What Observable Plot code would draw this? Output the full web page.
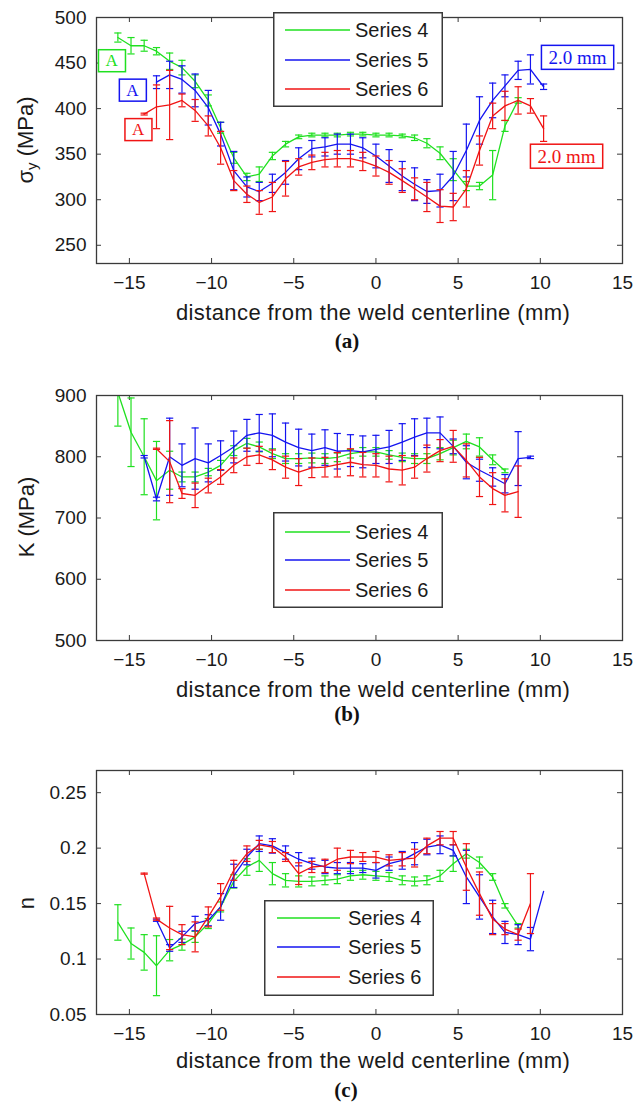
<!DOCTYPE html>
<html><head><meta charset="utf-8">
<script src="https://cdn.jsdelivr.net/npm/d3@7"></script>
<script src="https://cdn.jsdelivr.net/npm/@observablehq/plot@0.6"></script>
<style>
body{margin:0;background:#fff;}
#wrap{position:relative;width:633px;height:1109px;overflow:hidden;font-family:"Liberation Sans",Arial,sans-serif;}
.panel{position:absolute;left:0;}
.legend{position:absolute;}
.caption{position:absolute;font-family:"Liberation Serif","Times New Roman",serif;font-weight:bold;font-size:21px;transform:translate(-50%,-50%);color:#111;}
</style></head><body><div id="wrap"></div>
<script>
// ---------- data ----------
const positions = [-15.7,-14.9,-14.1,-13.35,-12.55,-11.8,-11.0,-10.2,-9.45,-8.65,-7.85,-7.1,-6.3,-5.5,-4.7,-3.9,-3.1,-2.35,-1.55,-0.8,0,0.8,1.6,2.35,3.1,3.9,4.7,5.5,6.3,7.1,7.85,8.65,9.4,10.2];
const seriesNames = ["Series 4","Series 5","Series 6"];
const seriesColors = ["#20e020","#1414f0","#f01414"];
const xTicks = [-15,-10,-5,0,5,10,15];

const sigmaS4 = [478,469,469,463,452,445,430,409,379,346,325,328,348,361,369,371,371,371,372,372,371,371,370,368,362,351,333,315,315,327,381,409,null,null];
const sigmaS4Err = [5,9,6,4,9,8,7,6,6,6,4,8,4,3,2,2,2,2,2,2,2,2,2,3,5,7,12,5,4,27,6,3,null,null];
const sigmaS5 = [null,null,null,429,437,432,420,401,372,332,314,309,318,330,345,356,358,361,361,357,348,337,326,317,309,310,326,354,387,409,425,442,443,424];
const sigmaS5Err = [null,null,null,7,15,15,18,19,13,21,11,10,10,13,12,9,10,11,11,11,13,18,16,18,13,18,27,29,26,19,12,10,16,3];
const sigmaS6 = [null,null,394,402,404,409,398,381,357,321,306,297,303,323,336,341,344,345,345,342,337,330,321,312,303,293,292,312,354,392,403,409,403,378];
const sigmaS6Err = [null,null,1,24,38,7,12,11,18,11,9,13,16,19,9,8,8,9,9,10,11,13,13,12,16,18,15,20,16,14,16,15,8,14];
const sigmaTicks = [250,300,350,400,450,500];

const kS4 = [905,840,800,761,778,767,767,775,786,810,822,816,805,797,797,798,797,799,805,808,808,803,799,797,797,805,815,825,816,795,777,null,null,null];
const kS4Err = [55,56,62,64,31,8,8,6,8,8,8,8,8,8,8,8,8,7,7,7,7,7,7,8,8,10,12,12,15,8,3,null,null,null];
const kS5 = [null,null,800,731,800,786,797,790,802,816,835,839,835,824,815,810,815,809,810,808,812,816,824,832,839,839,817,791,778,767,756,797,799,null];
const kS5Err = [null,null,2,3,63,35,50,31,24,26,26,30,35,31,30,27,29,29,26,26,23,27,30,30,24,26,12,27,18,15,15,44,2,null];
const kS6 = [null,null,null,813,792,740,737,753,767,786,800,803,795,783,775,782,783,787,791,787,786,780,778,783,797,810,817,794,767,748,737,743,null,null];
const kS6Err = [null,null,null,1,67,8,20,12,12,12,14,14,16,18,22,16,16,20,22,20,19,21,24,18,22,18,26,27,32,26,27,42,null,null];
const kTicks = [500,600,700,800,900];

const nS4 = [0.133,0.114,0.106,0.094,0.108,0.113,0.120,0.132,0.147,0.170,0.183,0.189,0.177,0.171,0.170,0.170,0.171,0.172,0.175,0.176,0.175,0.174,0.171,0.170,0.171,0.175,0.186,0.195,0.187,0.174,0.148,0.130,null,null];
const nS4Err = [0.016,0.014,0.016,0.027,0.0096,0.005,0.005,0.0045,0.0045,0.006,0.0075,0.01,0.01,0.006,0.005,0.004,0.004,0.004,0.004,0.004,0.004,0.004,0.004,0.004,0.004,0.005,0.007,0.004,0.005,0.003,0.002,0.002,null,null];
const nS5 = [null,null,null,0.135,0.110,0.120,0.132,0.135,0.147,0.175,0.192,0.204,0.202,0.196,0.190,0.186,0.183,0.182,0.182,0.182,0.180,0.186,0.189,0.195,0.201,0.203,0.198,0.174,0.156,0.138,0.124,0.122,0.118,0.161];
const nS5Err = [null,null,null,0.001,0.003,0.005,0.0065,0.005,0.012,0.0105,0.007,0.007,0.0065,0.006,0.006,0.005,0.006,0.005,0.005,0.004,0.007,0.006,0.008,0.01,0.007,0.008,0.005,0.024,0.02,0.015,0.01,0.009,0.0105,0];
const nS6 = [null,null,0.177,0.136,0.128,0.122,0.120,0.138,0.156,0.180,0.195,0.203,0.201,0.192,0.177,0.183,0.184,0.190,0.192,0.192,0.192,0.189,0.190,0.191,0.202,0.209,0.209,0.183,0.159,0.136,0.127,0.122,0.150,null];
const nS6Err = [null,null,0.0005,0.001,0.0195,0.009,0.0135,0.009,0.012,0.009,0.007,0.004,0.005,0.004,0.0098,0.005,0.006,0.01,0.006,0.004,0.005,0.005,0.006,0.008,0.007,0.006,0.006,0.021,0.0195,0.014,0.005,0.005,0.027,null];
const nTicks = [0.05,0.1,0.15,0.2,0.25];

const sigmaNotes = [
  {x:-16.08, y:452.5, label:"A", color:0, size:17},
  {x:-14.81, y:420.2, label:"A", color:1, size:17},
  {x:-14.47, y:376.9, label:"A", color:2, size:17},
  {x:12.26, y:455.8, label:"2.0 mm", color:1, size:19},
  {x:11.59, y:347.3, label:"2.0 mm", color:2, size:19}
];

// ---------- helpers ----------
const W = 633, ML = 96, MR = 11;
const AXIS = "#3a3a3a";
const capSymbol = {draw(ctx, size){ const w = Math.sqrt(size/Math.PI); ctx.moveTo(-w,0); ctx.lineTo(w,0); }};
const fmtX = d => d < 0 ? "\u2212" + Math.abs(d) : String(d);
const wrap = document.getElementById("wrap");

function rows(vals, errs){
  return positions.map((x,i)=>({x, v: vals[i], e: errs[i]})).filter(d => d.v != null);
}

function panel(cfg){
  const fw = W - ML - MR, fh = cfg.height - cfg.mt - cfg.mb;
  const marks = [
    Plot.ruleX(xTicks, {x: d=>d, insetTop: fh-5, stroke: AXIS, strokeWidth: 1}),
    Plot.ruleX(xTicks, {x: d=>d, insetBottom: fh-5, stroke: AXIS, strokeWidth: 1}),
    Plot.ruleY(cfg.yTicks, {y: d=>d, insetRight: fw-5, stroke: AXIS, strokeWidth: 1}),
    Plot.ruleY(cfg.yTicks, {y: d=>d, insetLeft: fw-5, stroke: AXIS, strokeWidth: 1}),
    Plot.axisX({ticks: xTicks, tickSize: 0, tickPadding: 12, tickFormat: fmtX, label: null}),
    Plot.axisY({ticks: cfg.yTicks, tickSize: 0, tickPadding: 10, tickFormat: d => String(d), label: null})
  ];
  cfg.series.forEach((s, k) => {
    const data = rows(s[0], s[1]);
    const col = seriesColors[k];
    const eb = data.filter(d => d.e > 0);
    marks.push(Plot.line(data, {x: "x", y: "v", stroke: col, strokeWidth: 1.3, clip: true}));
    marks.push(Plot.ruleX(eb, {x: "x", y1: d => d.v - d.e, y2: d => d.v + d.e, stroke: col, strokeWidth: 1.2, clip: true}));
    marks.push(Plot.dot(eb, {x: "x", y: d => d.v - d.e, symbol: capSymbol, r: 3.6, stroke: col, strokeWidth: 1.2, fill: "none", clip: true}));
    marks.push(Plot.dot(eb, {x: "x", y: d => d.v + d.e, symbol: capSymbol, r: 3.6, stroke: col, strokeWidth: 1.2, fill: "none", clip: true}));
  });
  marks.push(Plot.frame({stroke: AXIS, strokeWidth: 1.3}));
  if (cfg.notes) {
    marks.push(Plot.text(cfg.notes, {x: "x", y: "y", text: "label", fill: d => seriesColors[d.color], fontSize: d => d.size,
      fontFamily: "Liberation Serif, Times New Roman, serif", textAnchor: "middle", lineAnchor: "middle"}));
  }
  const svg = Plot.plot({
    width: W, height: cfg.height,
    marginTop: cfg.mt, marginBottom: cfg.mb, marginLeft: ML, marginRight: MR,
    x: {domain: [-17, 15]},
    y: {domain: cfg.yDomain},
    color: {type: "identity"},
    style: {fontFamily: "Liberation Sans, Arial, sans-serif", fontSize: "19px", color: "#1a1a1a", background: "transparent", overflow: "visible"},
    marks
  });
  svg.classList.add("panel");
  svg.style.top = cfg.top + "px";
  wrap.appendChild(svg);
  const s = d3.select(svg);
  // y label
  const yl = s.append("text")
    .attr("transform", `translate(${cfg.yLabelX},${cfg.yLabelY}) rotate(-90)`)
    .attr("text-anchor", "middle").attr("dominant-baseline", "central")
    .attr("font-size", 22).attr("fill", "#1a1a1a");
  if (cfg.yLabelSub) {
    yl.append("tspan").text(cfg.yLabel);
    yl.append("tspan").text(cfg.yLabelSub).attr("font-size", 15).attr("dy", 6);
    yl.append("tspan").text(cfg.yLabelRest).attr("dy", -6);
  } else {
    yl.text(cfg.yLabel);
  }
  // x label
  s.append("text").attr("x", 373).attr("y", cfg.xLabelY).attr("text-anchor", "middle")
    .attr("font-size", 22).attr("letter-spacing", "0.4px").attr("fill", "#1a1a1a")
    .text("distance from the weld centerline (mm)");
  // annotation boxes
  svg.querySelectorAll('g[aria-label="text"] text').forEach(t => {
    const b = t.getBBox();
    const r = document.createElementNS("http://www.w3.org/2000/svg", "rect");
    r.setAttribute("x", b.x - 7); r.setAttribute("y", b.y - 1.5);
    r.setAttribute("width", b.width + 14); r.setAttribute("height", b.height + 3);
    r.setAttribute("fill", "#fff");
    r.setAttribute("stroke", t.getAttribute("fill") || t.parentNode.getAttribute("fill"));
    r.setAttribute("stroke-width", 1.5);
    if (t.getAttribute("transform")) r.setAttribute("transform", t.getAttribute("transform"));
    t.parentNode.insertBefore(r, t);
  });
  // legend
  const L = cfg.legend;
  const lg = d3.select(wrap).append("svg").attr("class", "legend")
    .style("left", L.left + "px").style("top", L.top + "px")
    .attr("width", 170).attr("height", L.h);
  lg.append("rect").attr("x", 0.75).attr("y", 0.75).attr("width", 168.5).attr("height", L.h - 1.5)
    .attr("fill", "#fff").attr("stroke", AXIS).attr("stroke-width", 1.5);
  seriesNames.forEach((name, k) => {
    const y = L.rows[k];
    lg.append("line").attr("x1", L.lx1).attr("x2", L.lx2).attr("y1", y).attr("y2", y)
      .attr("stroke", seriesColors[k]).attr("stroke-width", 1.4);
    lg.append("text").attr("x", L.tx).attr("y", y).attr("dominant-baseline", "central")
      .attr("font-family", "Liberation Sans, Arial, sans-serif").attr("font-size", 20).attr("fill", "#1a1a1a")
      .text(name);
  });
}

function caption(text, x, y){
  const d = document.createElement("div");
  d.className = "caption"; d.textContent = text;
  d.style.left = x + "px"; d.style.top = y + "px";
  wrap.appendChild(d);
}

// ---------- panels ----------
panel({top: 0, height: 330, mt: 17, mb: 67, yDomain: [230, 500], yTicks: sigmaTicks,
  series: [[sigmaS4, sigmaS4Err],[sigmaS5, sigmaS5Err],[sigmaS6, sigmaS6Err]],
  notes: sigmaNotes, yLabel: "\u03c3", yLabelSub: "y", yLabelRest: " (MPa)", yLabelX: 25, yLabelY: 140, xLabelY: 320,
  legend: {left: 273, top: 12, h: 95, rows: [18, 48, 77], lx1: 12, lx2: 77, tx: 82}});
caption("(a)", 347, 341);

panel({top: 360, height: 345, mt: 35, mb: 65, yDomain: [500, 900], yTicks: kTicks,
  series: [[kS4, kS4Err],[kS5, kS5Err],[kS6, kS6Err]],
  yLabel: "K (MPa)", yLabelX: 26, yLabelY: 157, xLabelY: 337,
  legend: {left: 273, top: 512, h: 96, rows: [20, 48, 78], lx1: 12, lx2: 77, tx: 82}});
caption("(b)", 347, 714);

panel({top: 750, height: 325, mt: 20, mb: 61, yDomain: [0.05, 0.27], yTicks: nTicks,
  series: [[nS4, nS4Err],[nS5, nS5Err],[nS6, nS6Err]],
  yLabel: "n", yLabelX: 26, yLabelY: 153, xLabelY: 318,
  legend: {left: 264, top: 900, h: 96, rows: [18, 47, 77], lx1: 13, lx2: 76, tx: 84}});
caption("(c)", 346, 1090);
</script></body></html>
